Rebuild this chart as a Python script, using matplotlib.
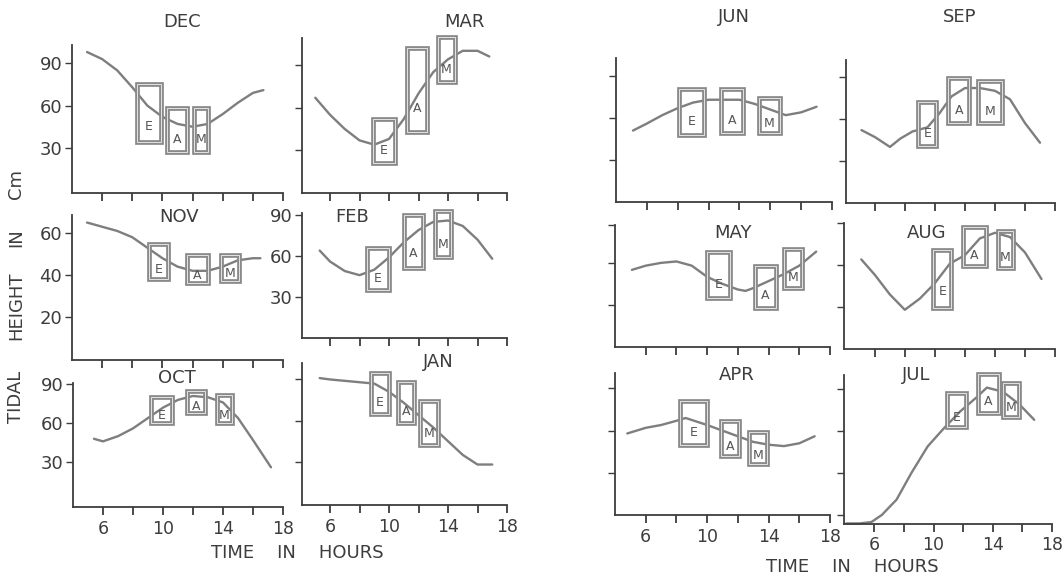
import matplotlib.pyplot as plt
from matplotlib.patches import Rectangle

# ---- data (hours, tidal height in cm) ----
dec_hours = [5.0, 6, 7, 8, 9, 10, 11, 12, 13, 14, 15, 16, 16.7]
dec_height = [98, 93, 85, 73, 60, 52, 47, 45, 47, 54, 62, 69, 71]
dec_box_start = [8.3, 10.3, 12.1]
dec_box_end = [9.9, 11.6, 13.0]
dec_box_low = [34, 27, 27]
dec_box_high = [75, 58, 58]

mar_hours = [5.0, 6, 7, 8, 9, 10, 11, 12, 13, 14, 15, 16, 16.8]
mar_height = [67, 55, 45, 37, 34, 38, 52, 70, 85, 94, 100, 100, 96]
mar_box_start = [8.9, 11.2, 13.3]
mar_box_end = [10.4, 12.6, 14.5]
mar_box_low = [21, 43, 78]
mar_box_high = [52, 102, 110]

nov_hours = [5.0, 6, 7, 8, 9, 10, 11, 12, 13, 14, 15, 16, 16.5]
nov_height = [65, 63, 61, 58, 53, 48, 44, 42, 42, 44, 47, 48, 48]
nov_box_start = [9.1, 11.6, 13.9]
nov_box_end = [10.4, 13.0, 15.1]
nov_box_low = [38, 36, 37]
nov_box_high = [55, 49.5, 49.5]

feb_hours = [5.3, 6, 7, 8, 9, 10, 11, 12, 13, 14, 15, 16, 17]
feb_height = [64, 56, 49, 46, 50, 59, 70, 79, 85, 86, 82, 72, 58]
feb_box_start = [8.5, 11.0, 13.1]
feb_box_end = [10.0, 12.3, 14.2]
feb_box_low = [35, 51, 59]
feb_box_high = [66, 90, 93]

oct_hours = [5.4, 6, 7, 8, 9, 10, 11, 12, 13, 14, 15, 16, 17.2]
oct_height = [48, 46, 50, 56, 64, 72, 78, 81, 80, 76, 64, 47, 26]
oct_box_start = [9.2, 11.6, 13.6]
oct_box_end = [10.6, 12.8, 14.6]
oct_box_low = [60, 68, 60]
oct_box_high = [80, 85, 82]

jan_hours = [5.3, 6, 7, 8, 9, 10, 11, 12, 13, 14, 15, 16, 17]
jan_height = [91, 90, 89, 88, 87, 81, 73, 64, 55, 45, 35, 28, 28]
jan_box_start = [8.8, 10.6, 12.1]
jan_box_end = [10.0, 11.7, 13.3]
jan_box_low = [65, 58, 42]
jan_box_high = [95, 88, 74]

jun_hours = [5.1, 6, 7, 8, 9, 10, 11, 12, 13, 14, 15, 16, 17]
jun_height = [51, 56, 62, 67, 71, 73, 73, 73, 70, 66, 62, 64, 68]
jun_box_start = [8.1, 10.8, 13.3]
jun_box_end = [9.7, 12.2, 14.6]
jun_box_low = [48, 49, 49]
jun_box_high = [81, 81, 74]

sep_hours = [5.1, 6, 7, 7.7, 8.5, 9.5, 10.3, 11.1, 12, 13, 14, 15, 16, 17]
sep_height = [52, 47, 40, 46, 51, 54, 64, 76, 82, 82, 80, 74, 57, 43]
sep_box_start = [8.9, 10.9, 12.9]
sep_box_end = [10.1, 12.3, 14.5]
sep_box_low = [41, 57, 57]
sep_box_high = [72, 89, 87]

may_hours = [5.1, 6, 7, 8, 9, 10, 11, 12, 12.5, 13, 14, 15, 16, 17.1]
may_height = [55, 58, 60, 61, 58, 50, 45, 41, 40, 42, 47, 52, 58, 68]
may_box_start = [10.0, 13.1, 15.0]
may_box_end = [11.5, 14.5, 16.2]
may_box_low = [35, 28, 42]
may_box_high = [68, 58, 70]

aug_hours = [5.1, 6, 7, 8, 9, 10, 11, 12, 13, 14, 15, 16, 17.1]
aug_height = [64, 53, 39, 28, 36, 47, 61, 67, 79, 83, 80, 69, 50]
aug_box_start = [9.9, 11.9, 14.2]
aug_box_end = [11.1, 13.4, 15.2]
aug_box_low = [29, 59, 58]
aug_box_high = [71, 87, 84]

apr_hours = [4.8, 6, 7, 8, 8.6, 10, 11, 12, 13, 14, 15, 16, 17]
apr_height = [58, 62, 64, 67, 69, 64, 60, 56, 52, 50, 49, 51, 56]
apr_box_start = [8.2, 10.9, 12.7]
apr_box_end = [10.0, 12.1, 13.9]
apr_box_low = [50, 42, 36]
apr_box_high = [81, 67, 59]

jul_hours = [4.1, 5.0, 5.8, 6.5, 7.5, 8.5, 9.6, 10.7, 11.8, 12.9, 13.6, 14.7, 15.8, 16.8]
jul_height = [-6, -6, -5, 0, 11, 30, 49, 62, 74, 84, 91, 88, 79, 68]
jul_box_start = [10.9, 13.0, 14.7]
jul_box_end = [12.2, 14.4, 15.8]
jul_box_low = [63, 73, 70]
jul_box_high = [87, 101, 94]

box_letters = ['E', 'A', 'M']
hour_ticks = [6, 8, 10, 12, 14, 16, 18]
hour_labels = ['6', '', '10', '', '14', '', '18']

# ---- layout (pixel boxes of each hand-drawn panel) ----
W, H = 1064, 576
ink = '#3d3d3d'
curve_col = '#7e7e7e'
box_col = '#8a8a8a'

panels = [
    # name, x, y, boxes, (left, right, top, bottom) px, xlim, ylim, yticks, y labels?, x labels?, title pos
    ('DEC', dec_hours, dec_height, (dec_box_start, dec_box_end, dec_box_low, dec_box_high),
     (72, 283, 45, 193), (4.0, 18), (-2, 103), [30, 60, 90], True, False, (182, 22)),
    ('MAR', mar_hours, mar_height, (mar_box_start, mar_box_end, mar_box_low, mar_box_high),
     (302, 507, 38, 193), (4.1, 18), (0, 109), [30, 60, 90], False, False, (464, 22)),
    ('NOV', nov_hours, nov_height, (nov_box_start, nov_box_end, nov_box_low, nov_box_high),
     (72, 283, 215, 360), (4.0, 18), (-0.5, 68.6), [20, 40, 60], True, False, (179, 217)),
    ('FEB', feb_hours, feb_height, (feb_box_start, feb_box_end, feb_box_low, feb_box_high),
     (302, 507, 213, 338), (4.1, 18), (0, 91.5), [30, 60, 90], True, False, (352, 217)),
    ('OCT', oct_hours, oct_height, (oct_box_start, oct_box_end, oct_box_low, oct_box_high),
     (73, 283, 383, 507), (4.0, 18), (-4.6, 91), [30, 60, 90], True, True, (177, 378)),
    ('JAN', jan_hours, jan_height, (jan_box_start, jan_box_end, jan_box_low, jan_box_high),
     (302, 507, 363, 505), (4.1, 18), (-1.5, 102), [30, 60, 90], False, True, (438, 362)),
    ('JUN', jun_hours, jun_height, (jun_box_start, jun_box_end, jun_box_low, jun_box_high),
     (616, 832, 58, 202), (4.0, 18), (0, 102.8), [30, 60, 90], False, False, (734, 17)),
    ('SEP', sep_hours, sep_height, (sep_box_start, sep_box_end, sep_box_low, sep_box_high),
     (846, 1055, 60, 203), (4.07, 18), (0, 102), [30, 60, 90], False, False, (960, 17)),
    ('MAY', may_hours, may_height, (may_box_start, may_box_end, may_box_low, may_box_high),
     (615, 830, 225, 347), (4.0, 18), (0, 87), [30, 60, 87], False, False, (733, 233)),
    ('AUG', aug_hours, aug_height, (aug_box_start, aug_box_end, aug_box_low, aug_box_high),
     (844, 1055, 223, 349), (3.95, 18), (0, 90), [30, 60, 90], False, False, (927, 233)),
    ('APR', apr_hours, apr_height, (apr_box_start, apr_box_end, apr_box_low, apr_box_high),
     (615, 830, 373, 515), (4.0, 18), (0, 101), [30, 60, 90], False, True, (737, 375)),
    ('JUL', jul_hours, jul_height, (jul_box_start, jul_box_end, jul_box_low, jul_box_high),
     (844, 1052, 375, 524), (3.95, 18), (-6.4, 100), [0, 30, 60, 90], False, True, (916, 375)),
]

fig = plt.figure(figsize=(W / 100, H / 100), dpi=100)
fig.patch.set_facecolor('white')

for name, hours, height, boxes, px, xlim, ylim, yticks, ylab, xlab, tpos in panels:
    l, r, t, b = px
    ax = fig.add_axes([l / W, 1 - b / H, (r - l) / W, (b - t) / H])
    ax.set_facecolor('none')
    ax.set_xlim(*xlim)
    ax.set_ylim(*ylim)
    for side in ['top', 'right']:
        ax.spines[side].set_visible(False)
    for side in ['left', 'bottom']:
        ax.spines[side].set_color(ink)
        ax.spines[side].set_linewidth(1.3)

    ax.plot(hours, height, color=curve_col, lw=1.7, solid_capstyle='round',
            solid_joinstyle='round', clip_on=False, zorder=2)

    starts, ends, lows, highs = boxes
    for s, e, lo, hi, letter in zip(starts, ends, lows, highs, box_letters):
        ax.add_patch(Rectangle((s, lo), e - s, hi - lo, fill=False, ec=box_col,
                               lw=3.4, clip_on=False, zorder=3))
        ax.add_patch(Rectangle((s, lo), e - s, hi - lo, fill=False, ec='#e4e4e4',
                               lw=0.7, clip_on=False, zorder=4))
        ax.text((s + e) / 2, lo + 0.28 * (hi - lo), letter, ha='center', va='center',
                fontsize=9, color='#555555', zorder=5)

    ax.set_xticks(hour_ticks)
    ax.set_xticklabels(hour_labels if xlab else [''] * len(hour_ticks))
    ax.set_yticks(yticks)
    if ylab:
        ax.set_yticklabels([str(v) for v in yticks])
    else:
        ax.set_yticklabels([''] * len(yticks))
    ax.tick_params(axis='x', direction='out', length=6, width=1.3, color=ink,
                   labelsize=12.5, labelcolor=ink, pad=3)
    ax.tick_params(axis='y', direction='out', length=5, width=1.0, color=ink,
                   labelsize=13, labelcolor=ink, pad=2)

    fig.text(tpos[0] / W, 1 - tpos[1] / H, name, ha='center', va='center',
             fontsize=13, color=ink)

# vertical axis title, word by word as lettered on the original
for word, yc in [('TIDAL', 397), ('HEIGHT', 306), ('IN', 238), ('Cm', 184)]:
    fig.text(16 / W, 1 - yc / H, word, rotation=90, ha='center', va='center',
             fontsize=13, color=ink)

fig.text(297 / W, 1 - 553 / H, 'TIME    IN    HOURS', ha='center', va='center',
         fontsize=13, color=ink)
fig.text(852 / W, 1 - 567 / H, 'TIME    IN    HOURS', ha='center', va='center',
         fontsize=13, color=ink)

fig.savefig('out.png', dpi=100, facecolor='white')
